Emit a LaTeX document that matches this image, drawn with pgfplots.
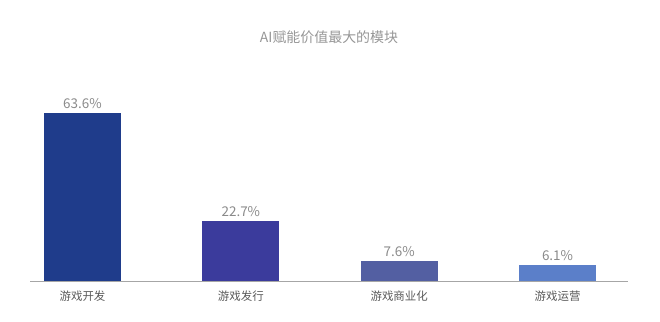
\documentclass[border=0pt]{standalone}
\usepackage{pgfplots}
\pgfplotsset{compat=1.18}
\usepackage{fontspec}
\setmainfont{Noto Sans CJK SC}
\definecolor{cA}{HTML}{1F3C8B}
\definecolor{cB}{HTML}{3B3B9C}
\definecolor{cC}{HTML}{535FA2}
\definecolor{cD}{HTML}{5B7FC9}
\definecolor{txt}{HTML}{8A8A8A}
\begin{document}
\begin{tikzpicture}[x=1bp,y=1bp]
\path[use as bounding box] (0,0) rectangle (660,321);
\node[font=\fontsize{14}{16}\selectfont, text=txt!90] at (329,284) {AI赋能价值最大的模块};
\begin{axis}[
  at={(30bp,40bp)}, anchor=south west,
  scale only axis, width=598bp, height=221bp,
  xmin=-0.3316, xmax=3.445, ymin=0, ymax=83.7,
  hide y axis,
  axis x line*=bottom,
  x axis line style={draw=black!35, line width=0.8pt, -},
  xtick={0,1,2,3},
  xticklabels={游戏开发,游戏发行,游戏商业化,游戏运营},
  major tick length=0pt,
  xticklabel style={font=\fontsize{11.5}{14}\selectfont, text=black!65, yshift=-6bp},
  /pgf/number format/assume math mode=true,
  ybar=0pt, bar width=77bp, bar shift=0pt,
  nodes near coords={\pgfmathprintnumber[fixed,fixed zerofill,precision=1,assume math mode=true]{\pgfplotspointmeta}\%},
  nodes near coords style={font=\fontsize{13.5}{15}\selectfont, text=txt, anchor=south, yshift=1bp},
  clip=false,
]
\addplot[draw=none, fill=cA] coordinates {(0,63.6)};
\addplot[draw=none, fill=cB] coordinates {(1,22.7)};
\addplot[draw=none, fill=cC] coordinates {(2,7.6)};
\addplot[draw=none, fill=cD] coordinates {(3,6.1)};
\end{axis}
\end{tikzpicture}
\end{document}
